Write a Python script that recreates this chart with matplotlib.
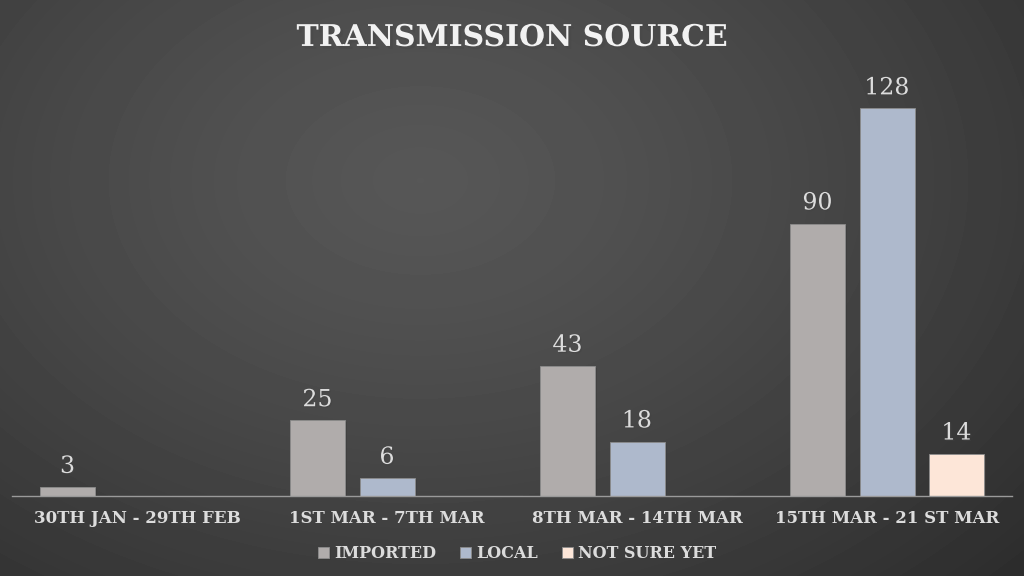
import numpy as np
import matplotlib
matplotlib.use("Agg")
import matplotlib.pyplot as plt
import matplotlib.patheffects as pe

# Transmission source per week
categories = ["30TH JAN - 29TH FEB", "1ST MAR - 7TH MAR", "8TH MAR - 14TH MAR", "15TH MAR - 21 ST MAR"]
imported = [3, 25, 43, 90]
local = [0, 6, 18, 128]
not_sure = [0, 0, 0, 14]
series_names = ["IMPORTED", "LOCAL", "NOT SURE YET"]
colors = ["#b0acab", "#aeb9cc", "#fde6d8"]

TEXT = "#dcdcdc"
FONT = "DejaVu Serif"

fig = plt.figure(figsize=(10.24, 5.76), dpi=100)

# soft dark background, lighter towards upper middle
bg = fig.add_axes([0, 0, 1, 1])
yy, xx = np.mgrid[0:576, 0:1024]
d = np.sqrt(((xx - 420) / 800.0) ** 2 + ((yy - 180) / 560.0) ** 2)
shade = 0.34 - 0.16 * d ** 1.3
shade = np.clip(shade, 0.17, 0.36)
bg.imshow(shade, cmap="gray", vmin=0, vmax=1, aspect="auto", extent=[0, 1, 0, 1])
bg.axis("off")

ax = fig.add_axes([12 / 1024, 80 / 576, 1000 / 1024, 436 / 576])
ax.patch.set_alpha(0)

x = np.arange(len(categories))
width = 0.22
step = 0.278
shadow = [pe.SimplePatchShadow(offset=(1.5, -1.5), alpha=0.35), pe.Normal()]

for i, (vals, name, col) in enumerate(zip([imported, local, not_sure], series_names, colors)):
    pos = x + (i - 1) * step
    bars = ax.bar(pos, vals, width, color=col, label=name, edgecolor="#8c8c8c", linewidth=0.6)
    for b in bars:
        b.set_path_effects(shadow)
    for p, v in zip(pos, vals):
        if v > 0:
            ax.text(p, v + 3, str(v), ha="center", va="bottom", fontsize=17,
                    color=TEXT, family=FONT,
                    path_effects=[pe.withSimplePatchShadow(offset=(1, -1), alpha=0.5)])

ax.set_xlim(-0.5, 3.5)
ax.set_ylim(0, 144)
ax.set_yticks([])
ax.set_xticks(x)
ax.set_xticklabels(categories, fontsize=12, color=TEXT, family=FONT, fontweight="bold")
ax.tick_params(axis="x", length=0, pad=10)
for s in ["top", "right", "left"]:
    ax.spines[s].set_visible(False)
ax.spines["bottom"].set_color("#9a9a9a")
ax.spines["bottom"].set_linewidth(1)

leg = ax.legend(loc="upper center", bbox_to_anchor=(0.505, -0.08), ncol=3, frameon=False,
                handlelength=0.7, handleheight=0.7, handletextpad=0.3, columnspacing=1.5,
                prop={"family": FONT, "size": 11.5, "weight": "bold"})
for t in leg.get_texts():
    t.set_color(TEXT)

fig.text(0.5, 0.935, "TRANSMISSION SOURCE", ha="center", va="center", fontsize=21.5,
         fontweight="bold", color="#f2f2f2", family=FONT,
         path_effects=[pe.withSimplePatchShadow(offset=(2, -2), alpha=0.6)])

fig.savefig("out.png", dpi=100)
